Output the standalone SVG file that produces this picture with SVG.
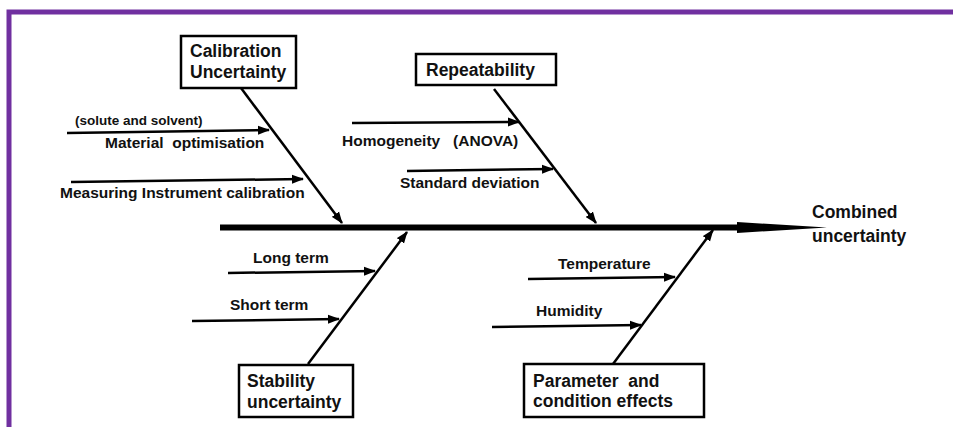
<svg xmlns="http://www.w3.org/2000/svg" width="953" height="427" viewBox="0 0 953 427">
<defs>
<style>
text{font-family:"Liberation Sans",Arial,sans-serif;font-weight:bold;fill:#111}
.h{font-size:17.5px}
.s{font-size:15.5px}
.box{fill:#fff;stroke:#000;stroke-width:2.5}
.ln{stroke:#000;stroke-width:2.5;fill:none;marker-end:url(#ah)}
</style>
<marker id="ah" markerUnits="userSpaceOnUse" markerWidth="12" markerHeight="10" refX="11" refY="4.5" orient="auto" viewBox="0 0 12 9">
<path d="M0,0 L12,4.5 L0,9 Z" fill="#000"/>
</marker>
</defs>
<rect width="953" height="427" fill="#fff"/>
<path d="M9,427 V12 H953" fill="none" stroke="#7030A0" stroke-width="5"/>
<g id="connectors">
<line x1="220" y1="227.5" x2="742" y2="227.5" stroke="#000" stroke-width="6"/>
<polygon points="737,222 827,227.5 737,233" fill="#000"/>
<line class="ln" x1="241" y1="88" x2="342" y2="223"/>
<line class="ln" x1="67" y1="133" x2="269" y2="130"/>
<line class="ln" x1="71" y1="182" x2="303" y2="179"/>
<line class="ln" x1="494" y1="89" x2="596" y2="223"/>
<line class="ln" x1="352" y1="123" x2="519" y2="122"/>
<line class="ln" x1="407" y1="171" x2="553" y2="169"/>
<line class="ln" x1="308" y1="364" x2="407" y2="232"/>
<line class="ln" x1="228" y1="273" x2="375" y2="271"/>
<line class="ln" x1="192" y1="321" x2="339" y2="319"/>
<line class="ln" x1="613" y1="364" x2="713" y2="230"/>
<line class="ln" x1="528" y1="279" x2="675" y2="277"/>
<line class="ln" x1="492" y1="327" x2="641" y2="325"/>
</g>
<g id="calibration">
<rect class="box" x="181" y="36" width="115" height="52"/>
<text class="h" x="190" y="57">Calibration</text>
<text class="h" x="190" y="78">Uncertainty</text>
</g>
<g id="repeatability">
<rect class="box" x="416" y="54" width="140" height="31"/>
<text class="h" x="426" y="76">Repeatability</text>
</g>
<g id="stability">
<rect class="box" x="239" y="365" width="114" height="52"/>
<text class="h" x="247" y="387">Stability</text>
<text class="h" x="247" y="408">uncertainty</text>
</g>
<g id="parameter">
<rect class="box" x="524" y="364" width="180" height="53"/>
<text class="h" x="533" y="387" xml:space="preserve">Parameter  and</text>
<text class="h" x="533" y="407">condition effects</text>
</g>
<g id="combined">
<text class="h" x="812" y="218">Combined</text>
<text class="h" x="812" y="242">uncertainty</text>
</g>
<g id="labels">
<text x="75" y="125" style="font-size:13.5px">(solute and solvent)</text>
<text class="s" x="105" y="148" xml:space="preserve">Material  optimisation</text>
<text class="s" x="60" y="198">Measuring Instrument calibration</text>
<text class="s" x="342" y="146" xml:space="preserve">Homogeneity   (ANOVA)</text>
<text class="s" x="400" y="188">Standard deviation</text>
<text class="s" x="253" y="263">Long term</text>
<text class="s" x="230" y="310">Short term</text>
<text class="s" x="558" y="269">Temperature</text>
<text class="s" x="536" y="316">Humidity</text>
</g>
</svg>
